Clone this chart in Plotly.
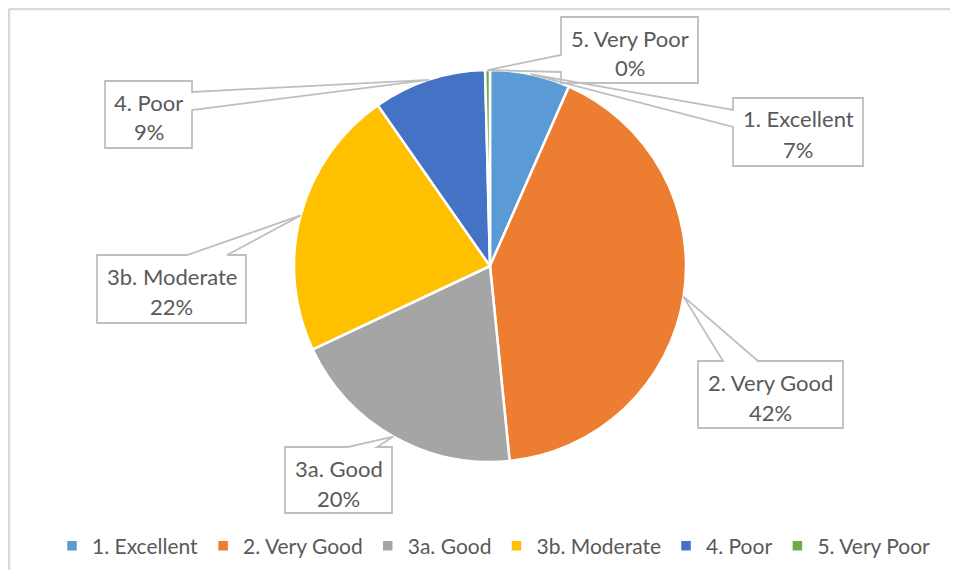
import math
import plotly.graph_objects as go

# ---- data ----
categories = ["1. Excellent", "2. Very Good", "3a. Good", "3b. Moderate", "4. Poor", "5. Very Poor"]
values = [6.6, 41.8, 19.6, 22.3, 9.3, 0.4]
colors = ["#5B9BD5", "#ED7D31", "#A5A5A5", "#FFC000", "#4472C4", "#70AD47"]

# ---- layout (pixel geometry of the chart, in page pixels) ----
OFF = 8                      # default page body margin
W, H = 958 - 2 * OFF, 578 - 2 * OFF
CX, CY, R = 490, 266, 196
FONT = "Lato"
TXT = "#595959"
LINE = "#BFBFBF"

# callout boxes: (x0, y0, x1, y1, wedge side, base start, base end)
callout_boxes = [
    (733, 98, 863, 166, "left", 110, 127),
    (698, 361, 843, 428, "top", 723, 758),
    (285, 447, 392, 513, "top", 348, 377),
    (97, 255, 246, 323, "top", 187, 227),
    (105, 81, 192, 148, "right", 92, 110),
    (561, 17, 698, 83, "left", 55, 72),
]


def px(x):
    return (x - OFF) / W


def py(y):
    return 1 - (y - OFF) / H


total = sum(values)
fig = go.Figure()
fig.add_trace(go.Pie(
    labels=categories,
    values=values,
    sort=False,
    direction="clockwise",
    rotation=0,
    marker=dict(colors=colors, line=dict(color="white", width=2.5)),
    textinfo="none",
    hoverinfo="label+percent",
    domain=dict(x=[px(CX - R), px(CX + R)], y=[py(CY + R), py(CY - R)]),
))

shapes = []
annotations = []
cum = 0.0
for name, v, box in zip(categories, values, callout_boxes):
    mid = (cum + v / 2) / total * 2 * math.pi
    cum += v
    tx = CX + R * math.sin(mid)
    ty = CY - R * math.cos(mid)
    x0, y0, x1, y1, side, a, b = box
    pts = [(x0, y0)]
    if side == "top":
        pts += [(a, y0), (tx, ty), (b, y0)]
    pts += [(x1, y0)]
    if side == "right":
        pts += [(x1, a), (tx, ty), (x1, b)]
    pts += [(x1, y1), (x0, y1)]
    if side == "left":
        pts += [(x0, b), (tx, ty), (x0, a)]
    path = "M " + " L ".join(f"{px(x):.5f},{py(y):.5f}" for x, y in pts) + " Z"
    shapes.append(dict(type="path", path=path, xref="paper", yref="paper",
                       line=dict(color=LINE, width=1.8), fillcolor="rgba(0,0,0,0)"))
    pct = round(v / total * 100)
    cxb = (x0 + x1) / 2
    annotations.append(dict(x=px(cxb), y=py(y0 + 21), xref="paper", yref="paper",
                            text=name, showarrow=False, xanchor="center", yanchor="middle",
                            font=dict(family=FONT, size=22, color=TXT)))
    annotations.append(dict(x=px(cxb), y=py(y0 + 51), xref="paper", yref="paper",
                            text=f"{pct}%", showarrow=False, xanchor="center", yanchor="middle",
                            font=dict(family=FONT, size=22, color=TXT)))

# chart frame (top and left edges visible)
shapes.append(dict(type="line", xref="paper", yref="paper", x0=px(9), y0=py(9), x1=px(980), y1=py(9),
                   line=dict(color="#D9D9D9", width=2.5)))
shapes.append(dict(type="line", xref="paper", yref="paper", x0=px(9), y0=py(9), x1=px(9), y1=py(600),
                   line=dict(color="#D9D9D9", width=2.5)))

fig.update_layout(
    width=W, height=H,
    margin=dict(l=0, r=0, t=0, b=0),
    paper_bgcolor="white",
    plot_bgcolor="white",
    shapes=shapes,
    annotations=annotations,
    showlegend=True,
    legend=dict(orientation="h", x=px(494), xanchor="center", y=py(546), yanchor="middle",
                font=dict(family=FONT, size=21, color=TXT), itemwidth=30,
                bgcolor="rgba(0,0,0,0)"),
)

fig.write_html("out.html")
